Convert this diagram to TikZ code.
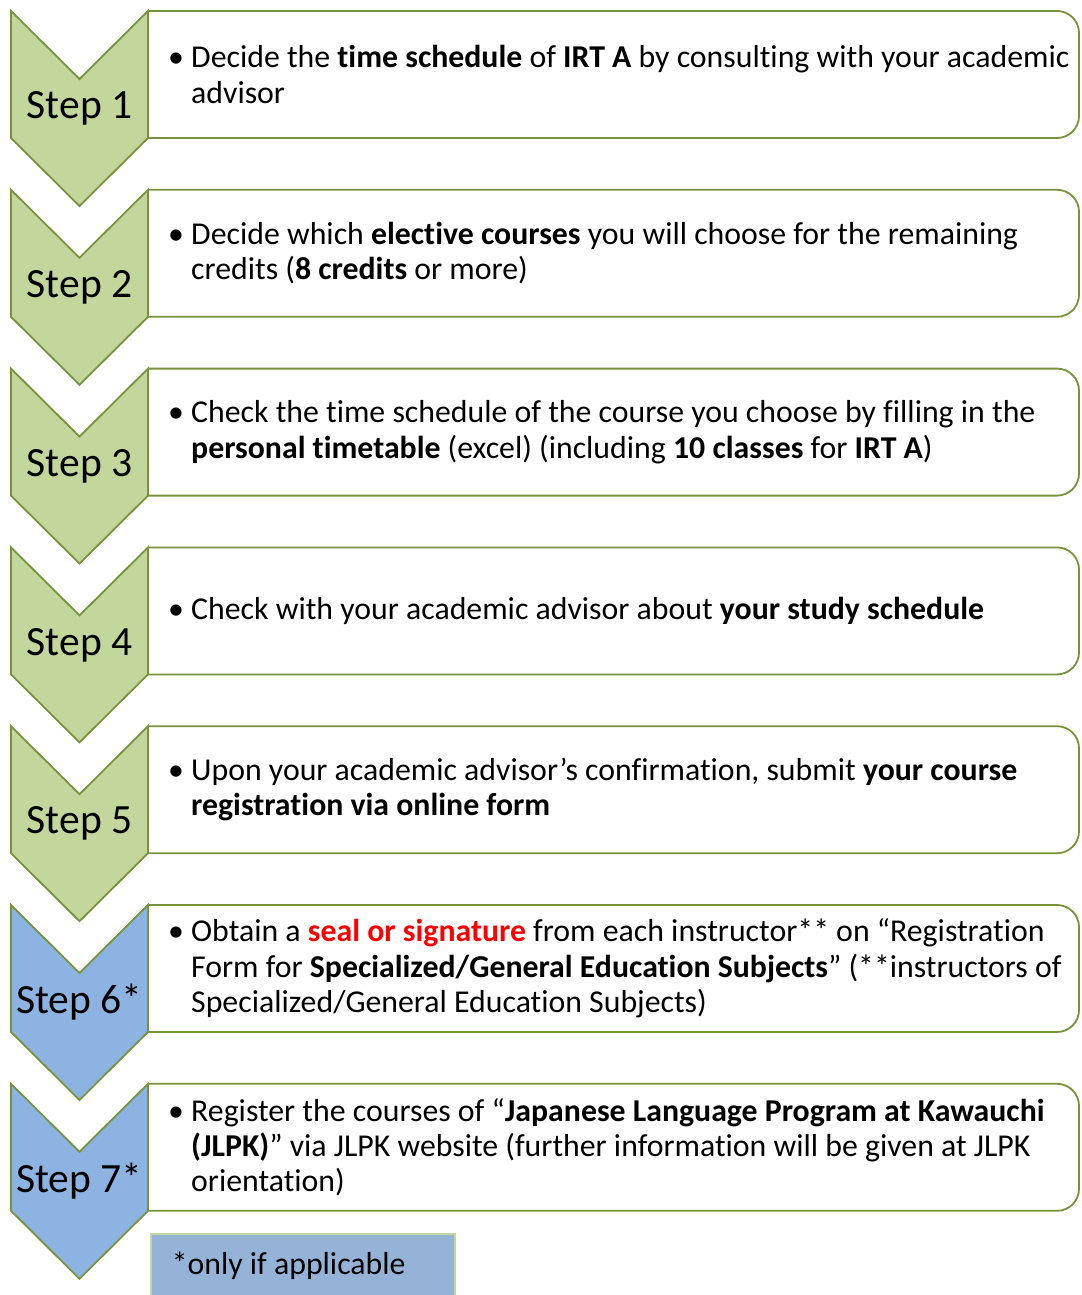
\documentclass[tikz,border=0pt]{standalone}
\usepackage{fontspec}
\setmainfont{Carlito}[Ligatures={NoCommon}]
\usepackage{xcolor}
\definecolor{stepgreen}{HTML}{C3D69B}
\definecolor{stepblue}{HTML}{8DB3E2}
\definecolor{olive}{HTML}{77933C}
\definecolor{notefill}{HTML}{95B3D7}
\definecolor{noteline}{HTML}{C3D69B}
\usepackage{tikz}
\usetikzlibrary{positioning}

\newcommand{\bul}{\llap{\makebox[23pt][l]{\textbullet}}}

\begin{document}
\begin{tikzpicture}[x=1pt, y=-1pt,
% define styles here
chevron/.style={draw=olive, line width=1.8pt, line join=miter},
stepbox/.style={draw=olive, line width=1.8pt, fill=white, rounded corners=22pt},
steplabel/.style={font=\fontsize{41.6}{44}\selectfont, inner sep=0pt},
bodytext/.style={font=\fontsize{31.8}{35.4}\selectfont, align=left, anchor=west, inner sep=0pt},
note/.style={draw=noteline, line width=1.5pt, fill=notefill, anchor=north west,
  minimum width=304pt, minimum height=64pt, inner xsep=21pt,
  font=\fontsize{31.8}{35}\selectfont}
]
\useasboundingbox (0,0) rectangle (1081,1295);
\clip (0,0) rectangle (1081,1295);

% boxes and chevrons
\foreach \i/\lab/\col in {1/Step 1/stepgreen, 2/Step 2/stepgreen, 3/Step 3/stepgreen,
  4/Step 4/stepgreen, 5/Step 5/stepgreen, 6/Step 6*/stepblue, 7/Step 7*/stepblue}{
  \pgfmathsetmacro\ytop{11+178.8*(\i-1)}
  \draw[stepbox] (148,\ytop) -- (1079,\ytop) -- (1079,\ytop+127) -- (148,\ytop+127);
  \draw[chevron, fill=\col] (11,\ytop) -- (79.5,\ytop+68) -- (148,\ytop) -- (148,\ytop+127)
    -- (79.5,\ytop+195) -- (11,\ytop+127) -- cycle;
  \node[steplabel] (step\i) at (79.5,\ytop+97.5) {\lab};
  \coordinate (mid\i) at (191,\ytop+63.5);
}

% texts
\node[bodytext] (txt1) at (mid1) {\bul Decide the \textbf{time schedule} of \textbf{IRT A} by consulting with your academic\\advisor};
\node[bodytext] (txt2) at (mid2) {\bul Decide which \textbf{elective courses} you will choose for the remaining\\credits (\textbf{8 credits} or more)};
\node[bodytext] (txt3) at (mid3) {\bul Check the time schedule of the course you choose by filling in the\\\textbf{personal timetable} (excel) (including \textbf{10 classes} for \textbf{IRT A})};
\node[bodytext] (txt4) at (mid4) {\bul Check with your academic advisor about \textbf{your study schedule}};
\node[bodytext] (txt5) at (mid5) {\bul Upon your academic advisor’s confirmation, submit \textbf{your course}\\\textbf{registration via online form}};
\node[bodytext] (txt6) at (mid6) {\bul Obtain a \textcolor{red}{\textbf{seal or signature}} from each instructor** on “Registration\\Form for \textbf{Specialized/General Education Subjects}” (**instructors of\\Specialized/General Education Subjects)};
\node[bodytext] (txt7) at (mid7) {\bul Register the courses of “\textbf{Japanese Language Program at Kawauchi}\\\textbf{(JLPK)}” via JLPK website (further information will be given at JLPK\\orientation)};

\node[note] (legend) at (150,1233) {\makebox[262pt][l]{*only if applicable}};
\end{tikzpicture}
\end{document}
